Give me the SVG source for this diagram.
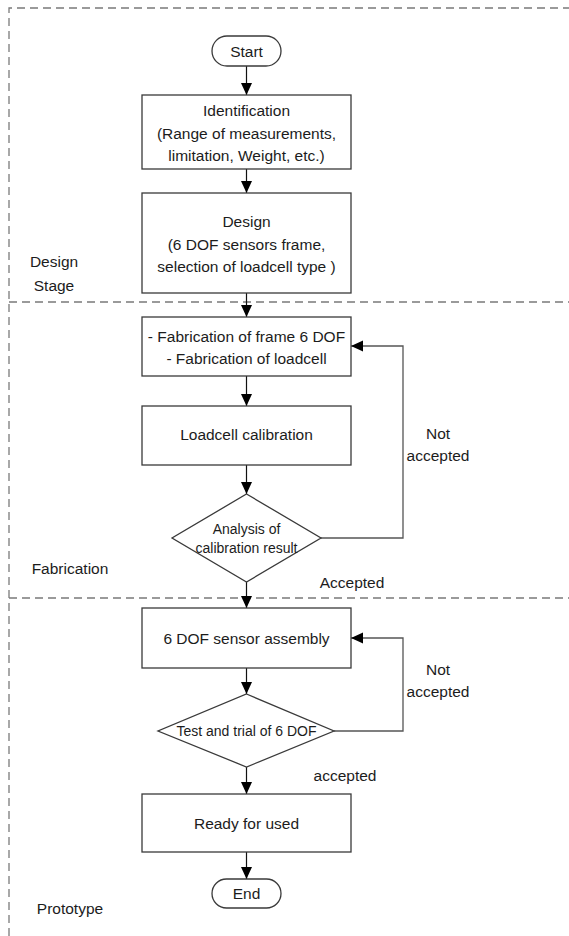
<svg xmlns="http://www.w3.org/2000/svg" width="569" height="936" viewBox="0 0 569 936">
  <style>
    text { font-family: "Liberation Sans", Arial, sans-serif; font-size: 15.5px; fill: #1c1c1c; text-anchor: middle; dominant-baseline: central; }
    .small { font-size: 14px; }
    .box { fill: #ffffff; stroke: #3a3a3a; stroke-width: 1.3; }
    .lane { fill: none; stroke: #7a7a7a; stroke-width: 1.3; stroke-dasharray: 8 5; }
    .flow { fill: none; stroke: #111111; stroke-width: 1.2; marker-end: url(#arrow); }
    .loop { fill: none; stroke: #555555; stroke-width: 1.3; marker-end: url(#arrow); }
  </style>
  <defs>
    <marker id="arrow" markerUnits="userSpaceOnUse" markerWidth="12" markerHeight="12" viewBox="0 0 12 12" refX="12" refY="6" orient="auto">
      <path d="M0,0.5 L12,6 L0,11.5 z" fill="#000"/>
    </marker>
  </defs>

  <rect width="569" height="936" fill="#ffffff"/>

  <!-- stage frame and separators -->
  <g id="stages">
    <path class="lane" d="M9,936 V8 H569"/>
    <path class="lane" d="M9,302 H569"/>
    <path class="lane" d="M9,598 H569"/>
    <text x="54" y="261">Design</text>
    <text x="54" y="285">Stage</text>
    <text x="70" y="568">Fabrication</text>
    <text x="70" y="908">Prototype</text>
  </g>

  <!-- connectors -->
  <g id="connectors">
    <path class="flow" d="M246.5,66 V95"/>
    <path class="flow" d="M246.5,169 V193"/>
    <path class="flow" d="M246.5,293 V317"/>
    <path class="flow" d="M246.5,376 V406"/>
    <path class="flow" d="M246.5,465 V494"/>
    <path class="flow" d="M246.5,582 V608"/>
    <path class="flow" d="M246.5,668 V694"/>
    <path class="flow" d="M246.5,767 V794"/>
    <path class="flow" d="M246.5,852 V879"/>
    <path class="loop" d="M321,538 H403 V346 H351"/>
    <path class="loop" d="M334,731 H403 V638 H351"/>
    <text x="438" y="433">Not</text>
    <text x="438" y="455">accepted</text>
    <text x="352" y="582">Accepted</text>
    <text x="438" y="669">Not</text>
    <text x="438" y="691">accepted</text>
    <text x="345" y="775">accepted</text>
  </g>

  <g id="start">
    <rect class="box" x="212" y="36" width="69" height="30" rx="15" ry="15"/>
    <text x="246.5" y="51">Start</text>
  </g>

  <g id="identification">
    <rect class="box" x="142" y="95" width="209" height="74"/>
    <text x="246.5" y="110">Identification</text>
    <text x="246.5" y="133">(Range of measurements,</text>
    <text x="246.5" y="155">limitation, Weight, etc.)</text>
  </g>

  <g id="design">
    <rect class="box" x="142" y="193" width="209" height="100"/>
    <text x="246.5" y="221">Design</text>
    <text x="246.5" y="244">(6 DOF sensors frame,</text>
    <text x="246.5" y="266">selection of loadcell type )</text>
  </g>

  <g id="fabrication">
    <rect class="box" x="142" y="317" width="209" height="59"/>
    <text x="246.5" y="336">- Fabrication of frame 6 DOF</text>
    <text x="246.5" y="358">- Fabrication of loadcell</text>
  </g>

  <g id="calibration">
    <rect class="box" x="142" y="406" width="209" height="59"/>
    <text x="246.5" y="434">Loadcell calibration</text>
  </g>

  <g id="analysis">
    <polygon class="box" points="246.5,494 321,538 246.5,582 172,538"/>
    <text class="small" x="246.5" y="529">Analysis of</text>
    <text class="small" x="246.5" y="548">calibration result</text>
  </g>

  <g id="assembly">
    <rect class="box" x="142" y="608" width="209" height="60"/>
    <text x="246.5" y="638">6 DOF sensor assembly</text>
  </g>

  <g id="test">
    <polygon class="box" points="246.5,694 334,731 246.5,767 158,731"/>
    <text class="small" x="246.5" y="731">Test and trial of 6 DOF</text>
  </g>

  <g id="ready">
    <rect class="box" x="142" y="794" width="209" height="58"/>
    <text x="246.5" y="823">Ready for used</text>
  </g>

  <g id="end">
    <rect class="box" x="212" y="879" width="69" height="29" rx="14.5" ry="14.5"/>
    <text x="246.5" y="893.5">End</text>
  </g>
</svg>
